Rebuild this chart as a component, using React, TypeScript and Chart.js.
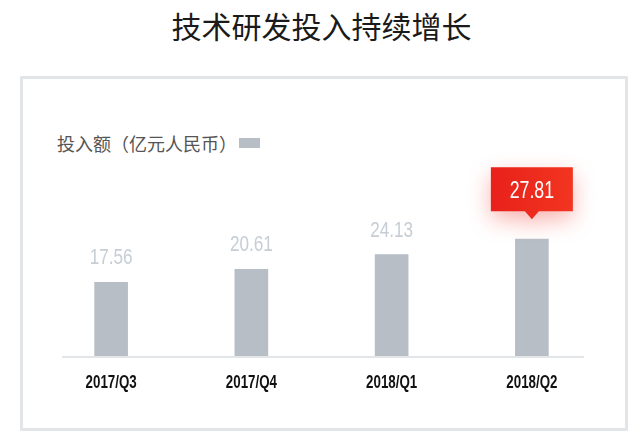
import { useEffect, useRef } from "react"
import { Chart, registerables } from "chart.js"

Chart.register(...registerables)

const chartTitle = "技术研发投入持续增长"
const seriesLabel = "投入额（亿元人民币）"
const quarters = ["2017/Q3", "2017/Q4", "2018/Q1", "2018/Q2"]
const investment = [17.56, 20.61, 24.13, 27.81]
const highlighted = [false, false, false, true]

const SANS = '"Liberation Sans", Arial, sans-serif'
const CJK = '"Noto Sans CJK SC", "Noto Sans", sans-serif'
const BAR_GREY = "#b7bec6"

// no condensed face installed, so squeeze the text horizontally
function narrowText(ctx: CanvasRenderingContext2D, text: string, x: number, y: number, sx: number) {
  ctx.save()
  ctx.translate(x, y)
  ctx.scale(sx, 1)
  ctx.fillText(text, 0, 0)
  ctx.restore()
}

// value labels + red callout on the highlighted bar
const valueLabels = {
  id: "valueLabels",
  afterDatasetsDraw(chart: any) {
    const ctx = chart.ctx
    const meta = chart.getDatasetMeta(0)
    meta.data.forEach((bar: any, i: number) => {
      const text = investment[i].toFixed(2)
      ctx.save()
      ctx.textAlign = "center"
      ctx.textBaseline = "alphabetic"
      if (!highlighted[i]) {
        ctx.font = "22px " + SANS
        ctx.fillStyle = "#c6cdd4"
        narrowText(ctx, text, bar.x, bar.y - 18, 0.78)
      } else {
        const w = 82
        const h = 44
        const bottom = bar.y - 28
        const left = bar.x - w / 2
        ctx.shadowColor = "rgba(236, 40, 28, 0.35)"
        ctx.shadowBlur = 22
        ctx.shadowOffsetY = 8
        const grad = ctx.createLinearGradient(left, 0, left + w, 0)
        grad.addColorStop(0, "#e8211b")
        grad.addColorStop(1, "#f23520")
        ctx.fillStyle = grad
        ctx.beginPath()
        ctx.moveTo(left, bottom - h)
        ctx.lineTo(left + w, bottom - h)
        ctx.lineTo(left + w, bottom)
        ctx.lineTo(bar.x + 7, bottom)
        ctx.lineTo(bar.x, bottom + 8)
        ctx.lineTo(bar.x - 7, bottom)
        ctx.lineTo(left, bottom)
        ctx.closePath()
        ctx.fill()
        ctx.shadowColor = "transparent"
        ctx.fillStyle = "#ffffff"
        ctx.font = "24px " + SANS
        narrowText(ctx, text, bar.x, bottom - 13, 0.74)
      }
      ctx.restore()
    })
  },
}

// short light baseline under the bars
const baseLine = {
  id: "baseLine",
  beforeDatasetsDraw(chart: any) {
    const { ctx, chartArea } = chart
    ctx.save()
    ctx.strokeStyle = "#e3e6e9"
    ctx.lineWidth = 2
    ctx.beginPath()
    ctx.moveTo(chartArea.left + 21, chartArea.bottom + 1)
    ctx.lineTo(chartArea.right - 18, chartArea.bottom + 1)
    ctx.stroke()
    ctx.restore()
  },
}

// category labels of the x scale, drawn condensed
const narrowTicks = {
  id: "narrowTicks",
  afterDraw(chart: any) {
    const { ctx, chartArea } = chart
    const xs = chart.scales.x
    ctx.save()
    ctx.font = "bold 18px " + SANS
    ctx.fillStyle = "#111"
    ctx.textAlign = "center"
    ctx.textBaseline = "alphabetic"
    xs.ticks.forEach((t: any, i: number) => {
      narrowText(ctx, String(xs.getLabelForValue(t.value)), xs.getPixelForTick(i), chartArea.bottom + 31.5, 0.74)
    })
    ctx.restore()
  },
}

function InvestmentChart() {
  const chartRef = useRef<HTMLCanvasElement>(null)
  const chartInstance = useRef<Chart | null>(null)

  useEffect(() => {
    if (!chartRef.current) return
    if (chartInstance.current) chartInstance.current.destroy()
    const ctx = chartRef.current.getContext("2d")
    if (!ctx) return

    chartInstance.current = new Chart(ctx, {
      type: "bar",
      data: {
        labels: quarters,
        datasets: [
          {
            label: seriesLabel,
            data: investment,
            backgroundColor: BAR_GREY,
            barThickness: 33,
          },
        ],
      },
      options: {
        responsive: true,
        maintainAspectRatio: false,
        animation: false,
        layout: { padding: { left: 41, right: 39, top: 146, bottom: 0 } },
        plugins: {
          legend: { display: false },
          tooltip: { enabled: false },
        },
        scales: {
          x: {
            grid: { display: false },
            border: { display: false },
            ticks: { display: false },
            afterFit: (scale: any) => {
              scale.height = 89
            },
          },
          y: {
            display: false,
            min: 0,
            max: 50,
          },
        },
      },
      plugins: [baseLine, valueLabels, narrowTicks],
    })

    return () => {
      if (chartInstance.current) {
        chartInstance.current.destroy()
        chartInstance.current = null
      }
    }
  }, [])

  return <canvas ref={chartRef} />
}

export default function App() {
  return (
    <div
      style={{
        position: "fixed",
        left: 0,
        top: 0,
        width: 641,
        height: 445,
        background: "#fff",
        overflow: "hidden",
      }}
    >
      <div
        style={{
          position: "absolute",
          left: 0,
          top: 0,
          width: 643,
          height: 50,
          lineHeight: "50px",
          textAlign: "center",
          fontFamily: CJK,
          fontSize: 30,
          color: "#1a1a1a",
        }}
      >
        {chartTitle}
      </div>
      <div
        style={{
          position: "absolute",
          left: 20,
          top: 76,
          width: 608,
          height: 355,
          border: "3px solid #e2e6e9",
          boxSizing: "border-box",
        }}
      />
      <div
        style={{
          position: "absolute",
          left: 57,
          top: 131,
          height: 24,
          lineHeight: "24px",
          fontFamily: CJK,
          fontSize: 18,
          color: "#555",
          display: "flex",
          alignItems: "center",
        }}
      >
        <span>{seriesLabel}</span>
        <span
          style={{
            display: "inline-block",
            width: 21,
            height: 10,
            marginLeft: 2,
            background: BAR_GREY,
          }}
        />
      </div>
      <div style={{ position: "absolute", left: 0, top: 0, width: 641, height: 445 }}>
        <InvestmentChart />
      </div>
    </div>
  )
}
